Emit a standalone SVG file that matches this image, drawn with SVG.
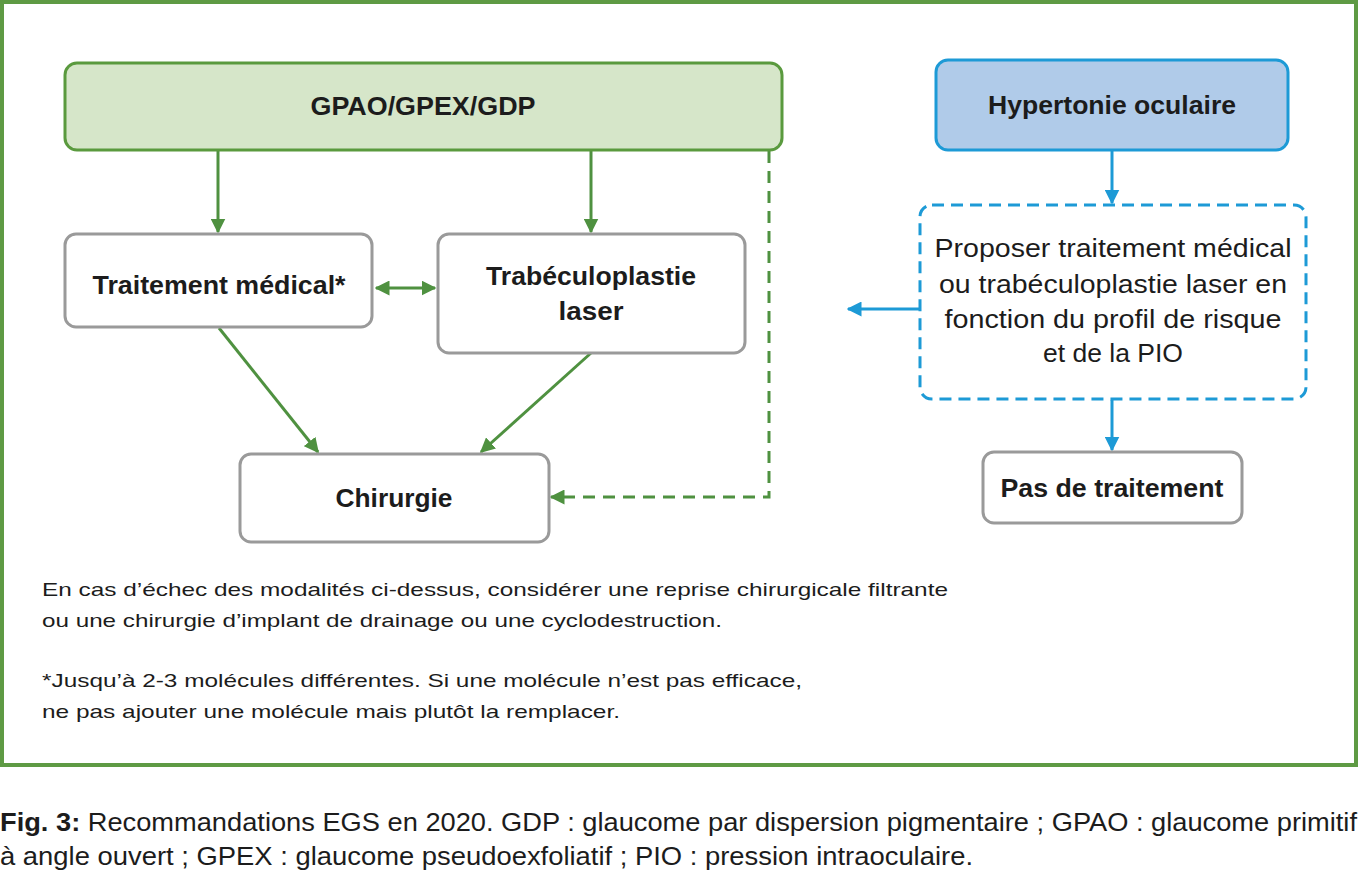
<svg xmlns="http://www.w3.org/2000/svg" width="1359" height="872" viewBox="0 0 1359 872">
<defs>
<style>
.t{font-family:"Liberation Sans","DejaVu Sans",sans-serif;fill:#1c1c1c}
.b{font-weight:bold;font-size:25px}
.r{font-size:25px}
.n{font-size:19px}
.box{fill:#fff;stroke:#9a9a9a;stroke-width:3}
.g{stroke:#4f9140;stroke-width:3;fill:none}
.bl{stroke:#1d9ad6;stroke-width:3;fill:none}
</style>
<marker id="ag" viewBox="0 0 10 10" refX="9" refY="5" markerWidth="5" markerHeight="5" orient="auto-start-reverse" markerUnits="strokeWidth"><path d="M0,0 L10,5 L0,10 z" fill="#4f9140"/></marker>
<marker id="ab" viewBox="0 0 10 10" refX="9" refY="5" markerWidth="5" markerHeight="5" orient="auto-start-reverse" markerUnits="strokeWidth"><path d="M0,0 L10,5 L0,10 z" fill="#1d9ad6"/></marker>
</defs>
<rect x="0" y="0" width="1359" height="872" fill="#fff"/>
<rect x="2" y="2" width="1354" height="763" fill="none" stroke="#5e9a44" stroke-width="4"/>
<g id="connectors">
<line class="g" x1="218" y1="151" x2="218" y2="232" marker-end="url(#ag)"/>
<line class="g" x1="591" y1="151" x2="591" y2="232" marker-end="url(#ag)"/>
<line class="g" x1="376" y1="288" x2="435" y2="288" marker-start="url(#ag)" marker-end="url(#ag)"/>
<line class="g" x1="219" y1="328" x2="318" y2="452" marker-end="url(#ag)"/>
<line class="g" x1="591" y1="353" x2="481" y2="452" marker-end="url(#ag)"/>
<polyline class="g" points="769,151 769,497 551,497" stroke-dasharray="12 8" marker-end="url(#ag)"/>
<line class="bl" x1="1112" y1="151" x2="1112" y2="203" marker-end="url(#ab)"/>
<line class="bl" x1="920" y1="309" x2="848" y2="309" marker-end="url(#ab)"/>
<line class="bl" x1="1112" y1="400" x2="1112" y2="450" marker-end="url(#ab)"/>
</g>
<g id="gpao">
<rect x="65" y="63" width="717" height="87" rx="12" fill="#d6e6c9" stroke="#5a9a3e" stroke-width="3"/>
<text class="t b" x="423" y="115" text-anchor="middle" textLength="225" lengthAdjust="spacingAndGlyphs">GPAO/GPEX/GDP</text>
</g>
<g id="hypertonie">
<rect x="936" y="60" width="352" height="90" rx="12" fill="#b0cbe9" stroke="#1d9ad6" stroke-width="3"/>
<text class="t b" x="1112" y="114" text-anchor="middle" textLength="248" lengthAdjust="spacingAndGlyphs">Hypertonie oculaire</text>
</g>
<g id="traitement">
<rect class="box" x="65" y="234" width="307" height="93" rx="11"/>
<text class="t b" x="219" y="294" text-anchor="middle" textLength="253" lengthAdjust="spacingAndGlyphs">Traitement médical*</text>
</g>
<g id="trabeculoplastie">
<rect class="box" x="438" y="234" width="307" height="119" rx="11"/>
<text class="t b" x="591" y="285" text-anchor="middle" textLength="210" lengthAdjust="spacingAndGlyphs">Trabéculoplastie</text>
<text class="t b" x="591" y="320" text-anchor="middle" textLength="65" lengthAdjust="spacingAndGlyphs">laser</text>
</g>
<g id="chirurgie">
<rect class="box" x="240" y="454" width="309" height="88" rx="11"/>
<text class="t b" x="394" y="507" text-anchor="middle" textLength="117" lengthAdjust="spacingAndGlyphs">Chirurgie</text>
</g>
<g id="proposer">
<rect x="920" y="205" width="386" height="194" rx="12" fill="#fff" stroke="#1d9ad6" stroke-width="3" stroke-dasharray="12 7"/>
<text class="t r" x="1113" y="257" text-anchor="middle" textLength="357" lengthAdjust="spacingAndGlyphs">Proposer traitement médical</text>
<text class="t r" x="1113" y="293" text-anchor="middle" textLength="348" lengthAdjust="spacingAndGlyphs">ou trabéculoplastie laser en</text>
<text class="t r" x="1113" y="328" text-anchor="middle" textLength="337" lengthAdjust="spacingAndGlyphs">fonction du profil de risque</text>
<text class="t r" x="1113" y="362" text-anchor="middle" textLength="140" lengthAdjust="spacingAndGlyphs">et de la PIO</text>
</g>
<g id="pas-de-traitement">
<rect class="box" x="983" y="452" width="259" height="71" rx="11"/>
<text class="t b" x="1112" y="497" text-anchor="middle" textLength="223" lengthAdjust="spacingAndGlyphs">Pas de traitement</text>
</g>
<g id="notes">
<text class="t n" x="42" y="596" textLength="906" lengthAdjust="spacingAndGlyphs">En cas d’échec des modalités ci-dessus, considérer une reprise chirurgicale filtrante</text>
<text class="t n" x="42" y="627" textLength="680" lengthAdjust="spacingAndGlyphs">ou une chirurgie d’implant de drainage ou une cyclodestruction.</text>
<text class="t n" x="42" y="687" textLength="760" lengthAdjust="spacingAndGlyphs">*Jusqu’à 2-3 molécules différentes. Si une molécule n’est pas efficace,</text>
<text class="t n" x="42" y="718" textLength="578" lengthAdjust="spacingAndGlyphs">ne pas ajouter une molécule mais plutôt la remplacer.</text>
</g>
<g id="caption">
<text class="t" font-size="25" x="0" y="831" textLength="1357" lengthAdjust="spacingAndGlyphs"><tspan font-weight="bold">Fig. 3:</tspan> Recommandations EGS en 2020. GDP : glaucome par dispersion pigmentaire ; GPAO : glaucome primitif</text>
<text class="t" font-size="25" x="0" y="865" textLength="973" lengthAdjust="spacingAndGlyphs">à angle ouvert ; GPEX : glaucome pseudoexfoliatif ; PIO : pression intraoculaire.</text>
</g>
</svg>
